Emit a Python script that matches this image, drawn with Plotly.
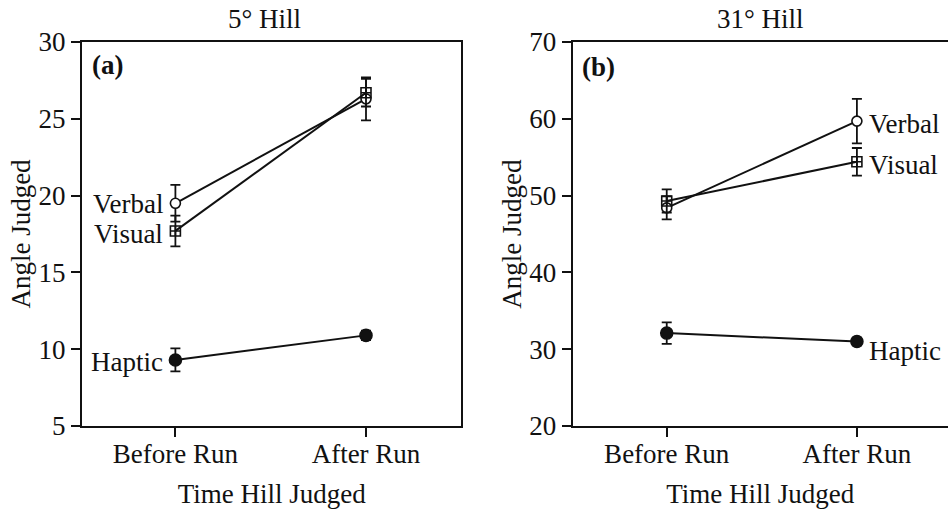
import plotly.graph_objects as go

categories = ["Before Run", "After Run"]

hill5_verbal = [19.5, 26.3]
hill5_verbal_err = [1.2, 1.4]
hill5_visual = [17.7, 26.7]
hill5_visual_err = [1.0, 0.9]
hill5_haptic = [9.3, 10.9]
hill5_haptic_err = [0.75, 0.3]

hill31_verbal = [48.4, 59.7]
hill31_verbal_err = [1.5, 2.9]
hill31_visual = [49.3, 54.4]
hill31_visual_err = [1.5, 1.8]
hill31_haptic = [32.1, 31.0]
hill31_haptic_err = [1.4, 0.5]

hill5_ticks = [5, 10, 15, 20, 25, 30]
hill31_ticks = [20, 30, 40, 50, 60, 70]

FONT = "Liberation Serif"
INK = "#111111"
FS = 27

fig = go.Figure()


def add_series(vals, errs, symbol, size, xa, ya, fill=None):
    fig.add_trace(go.Scatter(
        x=categories, y=vals, mode="lines+markers",
        line=dict(color=INK, width=2),
        marker=dict(symbol=symbol, size=size, color=fill if fill else INK,
                    line=dict(color=INK, width=1.6)),
        error_y=dict(type="data", array=errs, visible=True, color=INK,
                     thickness=1.8, width=5),
        xaxis=xa, yaxis=ya, showlegend=False, cliponaxis=False))


add_series(hill5_verbal, hill5_verbal_err, "circle", 10, "x", "y", "white")
add_series(hill5_visual, hill5_visual_err, "square-cross-open", 10, "x", "y")
add_series(hill5_haptic, hill5_haptic_err, "circle", 12, "x", "y")
add_series(hill31_verbal, hill31_verbal_err, "circle", 10, "x2", "y2", "white")
add_series(hill31_visual, hill31_visual_err, "square-cross-open", 10, "x2", "y2")
add_series(hill31_haptic, hill31_haptic_err, "circle", 12, "x2", "y2")

axis_common = dict(showline=True, linecolor=INK, linewidth=2, ticks="outside",
                   tickcolor=INK, ticklen=9, tickwidth=1.5, showgrid=False,
                   zeroline=False, tickfont=dict(family=FONT, size=FS, color=INK))

fig.update_layout(
    width=948, height=512,
    margin=dict(l=82, r=0, t=42, b=86),
    paper_bgcolor="white", plot_bgcolor="white",
    font=dict(family=FONT, size=FS, color=INK),
    xaxis=dict(domain=[0, 0.438], type="category", range=[-0.49, 1.5],
               mirror=True, ticklabelstandoff=-6,
               title=dict(text="Time Hill Judged", standoff=16, font=dict(size=FS)),
               anchor="y", **axis_common),
    yaxis=dict(domain=[0, 1], range=[5, 30], tickvals=hill5_ticks,
               mirror=True, title=dict(text="Angle Judged", standoff=0,
                                       font=dict(size=FS)),
               anchor="x", **axis_common),
    xaxis2=dict(domain=[0.5665, 1], type="category", range=[-0.495, 1.479],
                mirror=True, ticklabelstandoff=-6,
                title=dict(text="Time Hill Judged", standoff=16, font=dict(size=FS)),
                anchor="y2", **axis_common),
    yaxis2=dict(domain=[0, 1], range=[20, 70], tickvals=hill31_ticks,
                mirror=False, title=dict(text="Angle Judged", standoff=0,
                                         font=dict(size=FS)),
                anchor="x2", **axis_common),
)

ann = []
ann.append(dict(text="5° Hill", xref="x domain", yref="paper", x=0.48, y=1,
                yshift=6, yanchor="bottom", showarrow=False, font=dict(size=FS)))
ann.append(dict(text="31° Hill", xref="x2 domain", yref="paper", x=0.5, y=1,
                yshift=6, yanchor="bottom", showarrow=False, font=dict(size=FS)))
ann.append(dict(text="<b>(a)</b>", xref="x domain", yref="y domain", x=0.02, y=0.985,
                xanchor="left", yanchor="top", showarrow=False, font=dict(size=FS)))
ann.append(dict(text="<b>(b)</b>", xref="x2 domain", yref="y2 domain", x=0.02, y=0.98,
                xanchor="left", yanchor="top", showarrow=False, font=dict(size=FS)))

for name, vals, shift in [("Verbal", hill5_verbal, -1), ("Visual", hill5_visual, -3),
                          ("Haptic", hill5_haptic, -2)]:
    ann.append(dict(text=name, x=categories[0], y=vals[0], xref="x", yref="y",
                    xanchor="right", xshift=-10, yshift=shift, showarrow=False,
                    font=dict(size=FS)))
for name, vals, shift in [("Verbal", hill31_verbal, -3), ("Visual", hill31_visual, -3),
                          ("Haptic", hill31_haptic, -9)]:
    ann.append(dict(text=name, x=categories[1], y=vals[1], xref="x2", yref="y2",
                    xanchor="left", xshift=10, yshift=shift, showarrow=False,
                    font=dict(size=FS)))
fig.update_layout(annotations=ann)

fig.write_html("out.html")
